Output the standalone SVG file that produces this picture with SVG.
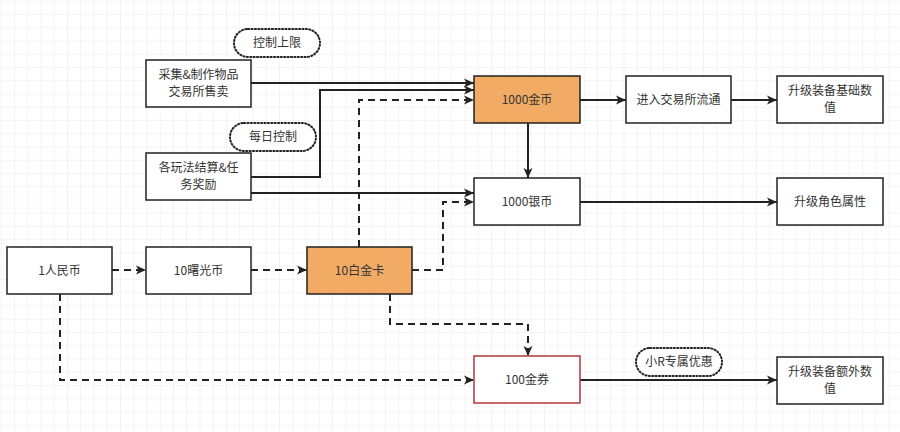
<svg xmlns="http://www.w3.org/2000/svg" width="900" height="432" viewBox="0 0 900 432">
<defs>
<pattern id="grid" x="0.75" y="0.75" width="13.25" height="13.25" patternUnits="userSpaceOnUse">
<path d="M0 0H13.25M0 0V13.25" fill="none" stroke="#e9e9e9" stroke-width="1"/>
</pattern>
<marker id="ah" viewBox="0 0 10 10" refX="10" refY="5" markerWidth="10" markerHeight="10" markerUnits="userSpaceOnUse" orient="auto">
<path d="M0 0.5L10 5L0 9.5L2.5 5Z" fill="#222"/>
</marker>
<style>
.box{fill:#fff;stroke:#222;stroke-width:1.5}
.gold{fill:#F2AB64;stroke:#222;stroke-width:1.5}
.red{fill:#fff;stroke:#B0393B;stroke-width:1.5}
.pill{fill:#fff;stroke:#222;stroke-width:2;stroke-dasharray:1.2 2.2;stroke-linecap:round}
.t{font-family:"Noto Sans CJK SC","Noto Sans",sans-serif;font-size:12px;fill:#333;text-anchor:middle}
.c{fill:none;stroke:#222;stroke-width:2;marker-end:url(#ah)}
.d{stroke-dasharray:7 5}
</style>
</defs>
<rect width="900" height="432" fill="#fff"/>
<rect width="900" height="432" fill="url(#grid)"/>
<g id="connectors">
<path class="c" d="M251 83H474"/>
<path class="c" d="M251 177H320V90H474"/>
<path class="c d" d="M359 247V100H474"/>
<path class="c" d="M251 193H474"/>
<path class="c d" d="M412 270H443V202H474"/>
<path class="c" d="M580 100H626"/>
<path class="c" d="M731 100H777"/>
<path class="c" d="M528 123V178"/>
<path class="c" d="M580 202H777"/>
<path class="c d" d="M112 270H146"/>
<path class="c d" d="M251 270H307"/>
<path class="c d" d="M390 294V324H528V356"/>
<path class="c d" d="M60 294V380H474"/>
<path class="c" d="M580 380H777"/>
</g>
<g id="n-limit"><rect class="pill" x="234" y="29" width="86" height="28" rx="14"/><text class="t" x="277" y="47">控制上限</text></g>
<g id="n-daily"><rect class="pill" x="230" y="123" width="86" height="28" rx="14"/><text class="t" x="273" y="141">每日控制</text></g>
<g id="n-smallr"><rect class="pill" x="636" y="348" width="86" height="28" rx="14"/><text class="t" x="679" y="366">小R专属优惠</text></g>
<g id="n-collect"><rect class="box" x="146" y="60" width="105" height="47"/><text class="t" x="198.5" y="79">采集&amp;制作物品</text><text class="t" x="198.5" y="96">交易所售卖</text></g>
<g id="n-reward"><rect class="box" x="146" y="153" width="105" height="47"/><text class="t" x="198.5" y="172">各玩法结算&amp;任</text><text class="t" x="198.5" y="189">务奖励</text></g>
<g id="n-gold"><rect class="gold" x="474" y="76" width="106" height="47"/><text class="t" x="527" y="104">1000金币</text></g>
<g id="n-market"><rect class="box" x="626" y="76" width="105" height="47"/><text class="t" x="678.5" y="104">进入交易所流通</text></g>
<g id="n-equipbase"><rect class="box" x="777" y="76" width="106" height="47"/><text class="t" x="830" y="95">升级装备基础数</text><text class="t" x="830" y="112">值</text></g>
<g id="n-silver"><rect class="box" x="474" y="178" width="106" height="47"/><text class="t" x="527" y="206">1000银币</text></g>
<g id="n-attr"><rect class="box" x="777" y="178" width="106" height="47"/><text class="t" x="830" y="206">升级角色属性</text></g>
<g id="n-rmb"><rect class="box" x="7" y="247" width="105" height="47"/><text class="t" x="59.5" y="275">1人民币</text></g>
<g id="n-dawn"><rect class="box" x="146" y="247" width="105" height="47"/><text class="t" x="198.5" y="275">10曙光币</text></g>
<g id="n-plat"><rect class="gold" x="307" y="247" width="105" height="47"/><text class="t" x="359.5" y="275">10白金卡</text></g>
<g id="n-voucher"><rect class="red" x="474" y="356" width="106" height="47"/><text class="t" x="527" y="384">100金券</text></g>
<g id="n-equipextra"><rect class="box" x="777" y="357" width="106" height="47"/><text class="t" x="830" y="376">升级装备额外数</text><text class="t" x="830" y="393">值</text></g>
</svg>
